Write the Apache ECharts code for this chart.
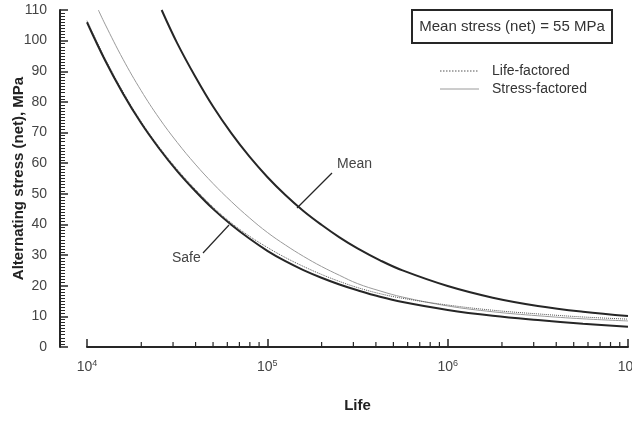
<!DOCTYPE html>
<html><head><meta charset="utf-8">
<script src="https://cdn.jsdelivr.net/npm/echarts@6/dist/echarts.min.js"></script>
<style>html,body{margin:0;padding:0;background:#fff}#c{width:632px;height:424px}</style>
</head><body><div id="c"></div>
<script>
// log10(Life) and alternating stress (MPa)
const meanLogN   = [4.414,4.5,4.6,4.7,4.8,4.9,5.0,5.1,5.2,5.3,5.4,5.5,5.625,5.75,6.0,6.25,6.5,6.75,7.0];
const meanStress = [110,99.2,88.3,78.4,69.8,62.2,55.5,49.6,44.4,39.9,35.8,32.2,28.3,25.0,19.9,16.1,13.4,11.5,10.1];

const safeLogN   = [4.0,4.1,4.2,4.3,4.4,4.5,4.6,4.7,4.8,4.9,5.0,5.1,5.2,5.3,5.4,5.5,5.625,5.75,6.0,6.25,6.5,6.75,7.0];
const safeStress = [106,93.6,82.7,73.1,64.8,57.4,50.9,45.0,39.9,35.4,31.4,28.0,25.1,22.6,20.4,18.5,16.4,14.7,12.1,10.2,8.8,7.6,6.6];

const stressFLogN   = [4.063,4.1,4.2,4.3,4.4,4.5,4.6,4.7,4.8,4.9,5.0,5.1,5.2,5.3,5.4,5.5,5.625,5.75,6.0,6.25,6.5,6.75,7.0];
const stressFStress = [110,105.4,93.9,83.7,74.7,66.8,59.7,53.3,47.5,42.2,37.4,33.3,29.6,26.3,23.4,20.7,18.3,16.3,13.4,11.5,10.2,9.2,8.5];

const lifeFLogN   = [4.0,4.1,4.2,4.3,4.4,4.5,4.6,4.7,4.8,4.9,5.0,5.1,5.2,5.3,5.4,5.5,5.625,5.75,6.0,6.25,6.5,6.75,7.0];
const lifeFStress = [106.5,94.2,83.3,73.6,65.3,58.0,51.5,45.6,40.5,36.2,32.5,29.2,26.3,23.7,21.4,19.4,17.4,15.9,13.7,12.0,10.8,9.8,9.1];

const xMinorTicks = [2e4,3e4,4e4,5e4,6e4,7e4,8e4,9e4,2e5,3e5,4e5,5e5,6e5,7e5,8e5,9e5,2e6,3e6,4e6,5e6,6e6,7e6,8e6,9e6];
const supLabels = {1e4:'4',1e5:'5',1e6:'6',1e7:'7'};
const legendNames = ['Life-factored', 'Stress-factored'];

const pairs = (xs, ys) => xs.map((e, i) => [Math.pow(10, e), ys[i]]);
const FONT = 'Liberation Sans, Arial, sans-serif';
const DARK = '#262626';

const chart = echarts.init(document.getElementById('c'));
chart.setOption({
  animation: false,
  textStyle: { fontFamily: FONT },
  grid: { left: 87, right: 4, top: 10, bottom: 77, containLabel: false, outerBoundsMode: 'none' },
  xAxis: {
    type: 'log', logBase: 10, min: 1e4, max: 1e7,
    name: 'Life', nameLocation: 'middle', nameGap: 51, nameMoveOverlap: false,
    nameTextStyle: { fontWeight: 'bold', fontSize: 15, color: '#222', fontFamily: FONT },
    axisLine: { lineStyle: { color: DARK, width: 2 } },
    axisTick: { inside: true, length: 8, lineStyle: { color: DARK, width: 1.5 } },
    splitLine: { show: false },
    axisLabel: {
      margin: 12, color: '#444', fontFamily: FONT,
      formatter: v => '{b|10}{s|' + (supLabels[Math.round(v)] || '') + '}',
      rich: { b: { fontSize: 14, color: '#444', fontFamily: FONT }, s: { fontSize: 9, color: '#444', verticalAlign: 'top', padding: [0, 0, 8, 0], fontFamily: FONT } }
    }
  },
  yAxis: {
    type: 'value', min: 0, max: 110, interval: 10, offset: 27,
    name: 'Alternating stress (net), MPa', nameLocation: 'middle', nameGap: 34, nameRotate: 90, nameMoveOverlap: false,
    nameTextStyle: { fontWeight: 'bold', fontSize: 15, color: '#222', fontFamily: FONT },
    axisLine: { show: true, lineStyle: { color: DARK, width: 2 } },
    axisTick: { show: true, inside: true, length: 8, lineStyle: { color: DARK, width: 1.5 } },
    minorTick: { show: true, splitNumber: 10, length: 5, lineStyle: { color: DARK, width: 1 } },
    splitLine: { show: false },
    axisLabel: { margin: 13, fontSize: 14, color: '#444', fontFamily: FONT }
  },
  series: [
    { name: 'Mean', type: 'line', data: pairs(meanLogN, meanStress), smooth: 0.4, symbol: 'none', lineStyle: { color: DARK, width: 2 }, z: 5 },
    { name: 'Safe', type: 'line', data: pairs(safeLogN, safeStress), smooth: 0.4, symbol: 'none', lineStyle: { color: DARK, width: 2 }, z: 5 },
    { name: legendNames[1], type: 'line', data: pairs(stressFLogN, stressFStress), smooth: 0.4, symbol: 'none', lineStyle: { color: '#9a9a9a', width: 1 }, z: 3 },
    { name: legendNames[0], type: 'line', data: pairs(lifeFLogN, lifeFStress), smooth: 0.4, symbol: 'none', lineStyle: { color: '#555', width: 1, type: 'dotted' }, z: 4 },
    {
      name: 'minor', type: 'custom', silent: true, clip: false, z: 6,
      data: xMinorTicks.map(v => [v, 0]),
      renderItem: (params, api) => {
        const p = api.coord([api.value(0), 0]);
        return { type: 'line', shape: { x1: p[0], y1: p[1], x2: p[0], y2: p[1] - 5 }, style: { stroke: DARK, lineWidth: 1.2 } };
      }
    }
  ],
  graphic: [
    { type: 'rect', shape: { x: 412, y: 10, width: 200, height: 33 }, style: { fill: '#fff', stroke: DARK, lineWidth: 2 } },
    { type: 'text', x: 512, y: 27, style: { text: 'Mean stress (net) = 55 MPa', font: '15px ' + FONT, fill: '#333', textAlign: 'center', textVerticalAlign: 'middle' } },
    { type: 'line', shape: { x1: 440, y1: 71, x2: 479, y2: 71 }, style: { stroke: '#555', lineWidth: 1.2, lineDash: [1.5, 1.5] } },
    { type: 'text', x: 492, y: 71, style: { text: legendNames[0], font: '14px ' + FONT, fill: '#333', textVerticalAlign: 'middle' } },
    { type: 'line', shape: { x1: 440, y1: 89, x2: 479, y2: 89 }, style: { stroke: '#9a9a9a', lineWidth: 1 } },
    { type: 'text', x: 492, y: 89, style: { text: legendNames[1], font: '14px ' + FONT, fill: '#333', textVerticalAlign: 'middle' } },
    { type: 'line', shape: { x1: 297, y1: 208, x2: 332, y2: 173 }, style: { stroke: DARK, lineWidth: 1.2 } },
    { type: 'text', x: 337, y: 164, style: { text: 'Mean', font: '14px ' + FONT, fill: '#444', textVerticalAlign: 'middle' } },
    { type: 'line', shape: { x1: 229, y1: 225, x2: 203, y2: 253 }, style: { stroke: DARK, lineWidth: 1.2 } },
    { type: 'text', x: 172, y: 258, style: { text: 'Safe', font: '14px ' + FONT, fill: '#444', textVerticalAlign: 'middle' } }
  ]
});
</script></body></html>
